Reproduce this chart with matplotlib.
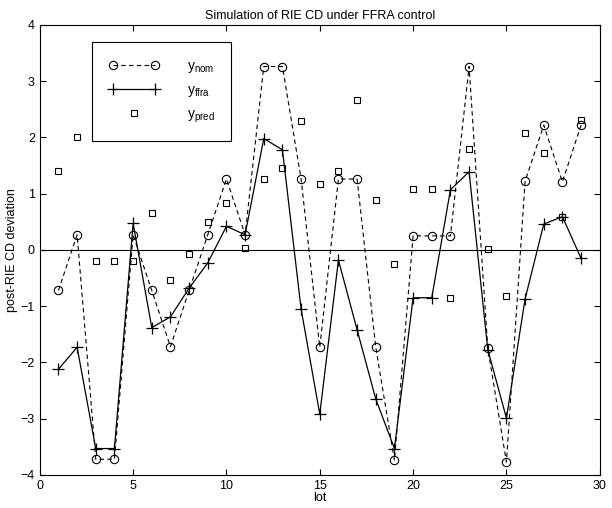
import matplotlib
matplotlib.use("Agg")
import matplotlib.pyplot as plt
from matplotlib.legend_handler import HandlerLine2D

plt.rcParams["font.family"] = ["Liberation Sans", "DejaVu Sans"]
plt.rcParams["mathtext.default"] = "regular"
plt.rcParams["font.size"] = 9

lots = list(range(1, 30))
y_nom = [-0.72, 0.27, -3.72, -3.72, 0.27, -0.72, -1.72, -0.72, 0.27, 1.26,
         0.27, 3.26, 3.26, 1.26, -1.73, 1.26, 1.26, -1.73, -3.74, 0.25,
         0.25, 0.25, 3.26, -1.74, -3.77, 1.22, 2.22, 1.21, 2.22]
y_ffra = [-2.12, -1.73, -3.53, -3.53, 0.47, -1.38, -1.19, -0.68, -0.23, 0.42,
          0.27, 1.98, 1.78, -1.05, -2.92, -0.18, -1.42, -2.65, -3.53, -0.85,
          -0.85, 1.07, 1.39, -1.77, -2.99, -0.87, 0.46, 0.59, -0.15]
y_pred = [1.41, 2.0, -0.19, -0.19, -0.2, 0.65, -0.53, -0.07, 0.49, 0.83,
          0.04, 1.26, 1.46, 2.29, 1.17, 1.41, 2.66, 0.88, -0.25, 1.08,
          1.08, -0.86, 1.8, 0.02, -0.81, 2.07, 1.73, 0.59, 2.31]

fig = plt.figure(figsize=(6.12, 5.08), dpi=100)
ax = fig.add_axes([0.065, 0.065, 0.915, 0.886])

ax.axhline(0, color="black", linewidth=0.8)
l_nom, = ax.plot(lots, y_nom, color="black", linestyle=(0, (4, 3)), linewidth=0.8,
                 marker="o", markersize=6, markerfacecolor="none",
                 markeredgewidth=0.8, label=r"$y_{nom}$")
l_ffra, = ax.plot(lots, y_ffra, color="black", linestyle="-", linewidth=0.9,
                  marker="+", markersize=8, markeredgewidth=0.9, label=r"$y_{ffra}$")
l_pred, = ax.plot(lots, y_pred, color="black", linestyle="none",
                  marker="s", markersize=5, markerfacecolor="none",
                  markeredgewidth=0.8, label=r"$y_{pred}$")

ax.set_xlim(0, 30)
ax.set_ylim(-4, 4)
ax.set_xticks(range(0, 31, 5))
ax.set_yticks(range(-4, 5))
ax.tick_params(direction="in", top=True, right=True, length=4, labelsize=9)
ax.set_title("Simulation of RIE CD under FFRA control", fontsize=9, pad=4)
ax.set_xlabel("lot", fontsize=9, labelpad=0)
ax.set_ylabel("post-RIE CD deviation", fontsize=9, labelpad=2)

# legend box sits inside the axes, upper left, MATLAB-like
leg = ax.legend(handles=[l_nom, l_ffra, l_pred], loc="upper left",
                bbox_to_anchor=(0.094, 0.962), borderaxespad=0, numpoints=2,
                handler_map={l_pred: HandlerLine2D(numpoints=1)},
                fancybox=False, framealpha=1, edgecolor="black",
                handlelength=3.6, handletextpad=2.0, borderpad=1.2,
                labelspacing=0.6, fontsize=10)
leg.get_frame().set_linewidth(0.8)

fig.savefig("out.png", dpi=100)
